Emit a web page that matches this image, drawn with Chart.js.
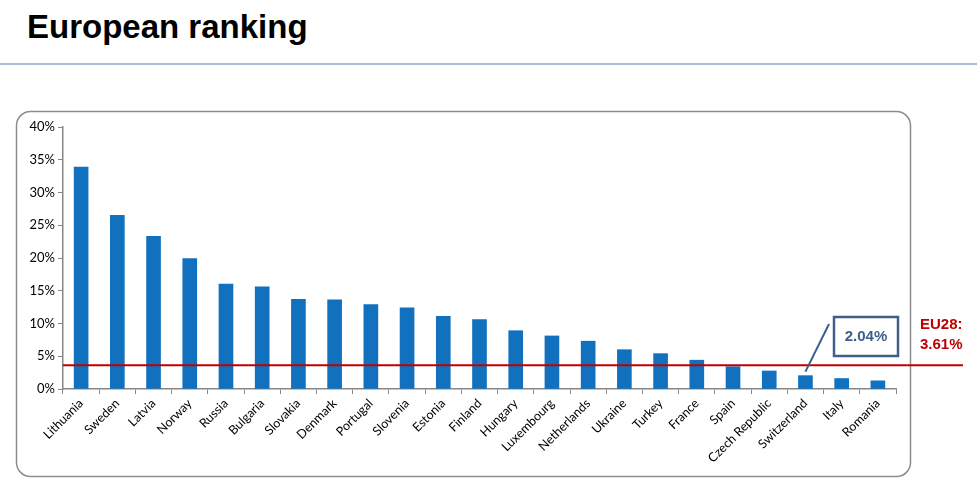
<!DOCTYPE html>
<html lang="en">
<head>
    <meta charset="UTF-8">
    <title>European ranking</title>
    <script src="https://cdn.jsdelivr.net/npm/chart.js"></script>
    <style>
        body { margin: 0; background: #fff; }
        #page { position: relative; width: 977px; height: 500px; overflow: hidden; }
        h1 {
            position: absolute; left: 27px; top: 8px; margin: 0;
            font: bold 33px "Liberation Sans", Arial, sans-serif; color: #000;
        }
        #rule { position: absolute; left: 0; top: 63px; width: 977px; height: 2px; background: #a7bcd5; }
        canvas { position: absolute; left: 0; top: 0; }
    </style>
</head>
<body>
<div id="page">
    <h1>European ranking</h1>
    <div id="rule"></div>
    <canvas id="myChart" width="977" height="500"></canvas>
</div>
<script>
    // values, in percent
    const countries = ['Lithuania', 'Sweden', 'Latvia', 'Norway', 'Russia', 'Bulgaria', 'Slovakia',
        'Denmark', 'Portugal', 'Slovenia', 'Estonia', 'Finland', 'Hungary', 'Luxembourg',
        'Netherlands', 'Ukraine', 'Turkey', 'France', 'Spain', 'Czech Republic', 'Switzerland',
        'Italy', 'Romania'];
    const shares = [33.9, 26.5, 23.3, 19.9, 16.0, 15.6, 13.7, 13.6, 12.9, 12.4, 11.1, 10.6,
        8.9, 8.1, 7.3, 6.0, 5.4, 4.4, 3.4, 2.75, 2.04, 1.6, 1.25];
    const eu28 = 3.61;
    const calloutCountry = 'Switzerland';

    const axisGrey = '#868686';
    const red = '#c00000';
    const callBlue = '#3d5f8c';

    const overlay = {
        id: 'overlay',
        beforeDraw(chart) {
            const ctx = chart.ctx;
            ctx.save();
            ctx.strokeStyle = '#8c8c8c';
            ctx.lineWidth = 1.5;
            ctx.beginPath();
            ctx.roundRect(16.5, 111.5, 894, 365, 14);
            ctx.stroke();
            ctx.restore();
        },
        afterDraw(chart) {
            const ctx = chart.ctx;
            const y = chart.scales.y;
            const area = chart.chartArea;
            const ly = y.getPixelForValue(eu28);
            ctx.save();
            // EU28 average line
            ctx.strokeStyle = red;
            ctx.lineWidth = 2;
            ctx.beginPath();
            ctx.moveTo(area.left, ly);
            ctx.lineTo(963, ly);
            ctx.stroke();
            ctx.fillStyle = red;
            ctx.font = 'bold 15px "Liberation Sans", Arial, sans-serif';
            ctx.textBaseline = 'middle';
            ctx.fillText('EU28:', 920, 325);
            ctx.fillText(eu28.toFixed(2) + '%', 920, 345);

            // callout for one country
            const i = countries.indexOf(calloutCountry);
            const bar = chart.getDatasetMeta(0).data[i];
            ctx.strokeStyle = callBlue;
            ctx.lineWidth = 2;
            ctx.beginPath();
            ctx.moveTo(bar.x, bar.y - 4);
            ctx.lineTo(829, 324);
            ctx.stroke();
            ctx.fillStyle = '#fff';
            ctx.fillRect(834, 317, 64, 39);
            ctx.lineWidth = 2.5;
            ctx.strokeRect(834, 317, 64, 39);
            ctx.fillStyle = callBlue;
            ctx.font = 'bold 15px "Liberation Sans", Arial, sans-serif';
            ctx.textAlign = 'center';
            ctx.fillText(shares[i].toFixed(2) + '%', 866, 337);
            ctx.restore();
        }
    };

    const config = {
        type: 'bar',
        data: {
            labels: countries,
            datasets: [{
                data: shares,
                backgroundColor: '#1271be',
                barThickness: 14
            }]
        },
        options: {
            responsive: false,
            animation: false,
            layout: { padding: { left: 18, right: 81, top: 127, bottom: 23 } },
            plugins: {
                legend: { display: false },
                tooltip: { enabled: false }
            },
            scales: {
                x: {
                    grid: { drawOnChartArea: false, tickLength: 5, color: axisGrey },
                    border: { color: axisGrey, width: 1.5 },
                    ticks: {
                        maxRotation: 45, minRotation: 45, autoSkip: false,
                        color: '#000', padding: 2,
                        font: { family: 'Lato', size: 12.5 }
                    },
                    afterFit(scale) { scale.height = 88; }
                },
                y: {
                    min: 0, max: 40,
                    grid: { drawOnChartArea: false, tickLength: 5, color: axisGrey },
                    border: { color: axisGrey, width: 1.5 },
                    ticks: {
                        stepSize: 5, color: '#000', padding: 3,
                        font: { family: 'Lato', size: 13 },
                        callback: v => v + '%'
                    },
                    afterFit(scale) { scale.width = 45; }
                }
            }
        },
        plugins: [overlay]
    };

    const myChart = new Chart(document.getElementById('myChart'), config);
</script>
</body>
</html>
